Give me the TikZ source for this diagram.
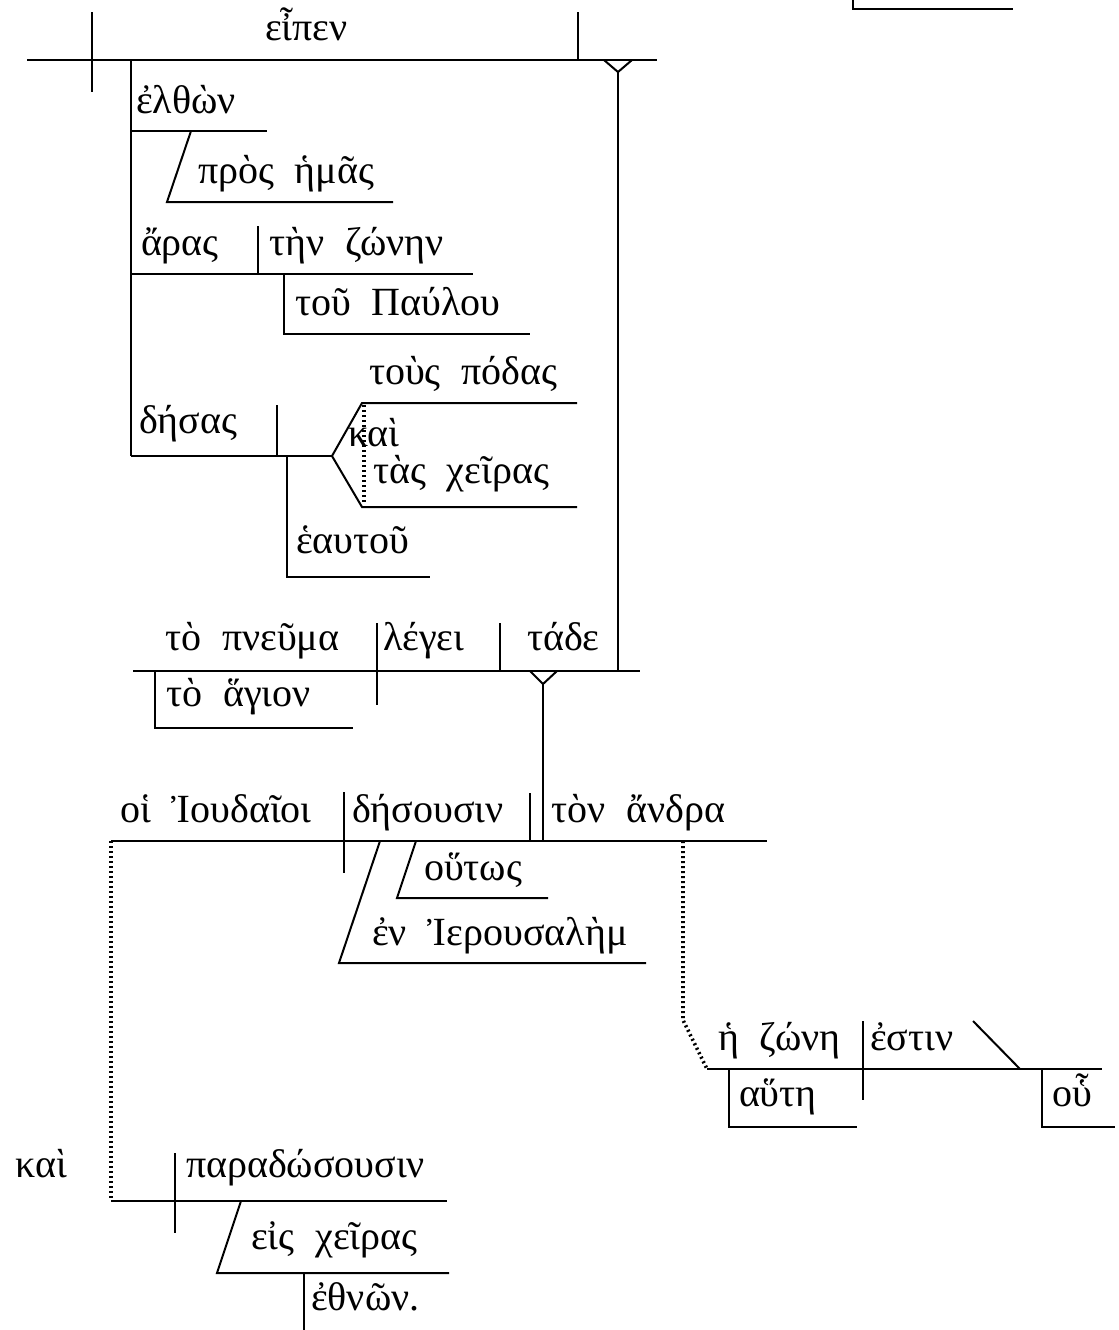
\documentclass[tikz,border=0pt]{standalone}
\usepackage{fontspec}
\setmainfont{Liberation Serif}[WordSpace=2.1]

\begin{document}
\begin{tikzpicture}[
    x=0.5pt, y=-0.5pt,
    font=\fontsize{20}{23}\selectfont,
    line width=1pt,
    word/.style={
        anchor=base west,
        inner sep=0pt
    },
    link/.style={
        line width=1.8pt,
        dash pattern=on 1pt off 1.5pt
    }
]
\useasboundingbox (0,0) rectangle (1119,1330);

% cut-off frame at the top
\draw (853,0) -- (853,9) -- (1013,9);

% main clause
\node[word] (eipen) at (264,40) {εἶπεν};
\draw (27,60) -- (657,60);
\draw (92,12) -- (92,92);
\draw (578,12) -- (578,60);
\coordinate (obj1) at (618,72);
\draw (604,60) -- (obj1) -- (632,60);
\draw (obj1) -- (618,671);

% participles
\draw (131,60) -- (131,456);
\node[word] (elthon) at (135,113) {ἐλθὼν};
\draw (131,131) -- (267,131);
\node[word] (pros) at (197,183) {πρὸς ἡμᾶς};
\draw (191,131) -- (167,202) -- (393,202);

\node[word] (aras) at (140,255) {ἄρας};
\node[word] (zonen) at (268,255) {τὴν ζώνην};
\draw (131,274) -- (473,274);
\draw (258,226) -- (258,274);
\node[word] (paulou) at (294,315) {τοῦ Παύλου};
\draw (284,274) -- (284,334) -- (530,334);

\node[word] (desas) at (138,433) {δήσας};
\draw (131,456) -- (332,456);
\draw (277,405) -- (277,456);
\node[word] (heautou) at (295,553) {ἑαυτοῦ};
\draw (287,456) -- (287,577) -- (430,577);

% compound object
\node[word] (podas) at (368,384) {τοὺς πόδας};
\node[word] (kai1) at (347,446) {καὶ};
\node[word] (cheiras1) at (372,483) {τὰς χεῖρας};
\draw (577,403) -- (362,403) -- (332,456) -- (362,507) -- (577,507);
\draw[link] (364,405) -- (364,505);

% object clause
\node[word] (pneuma) at (164,650) {τὸ πνεῦμα};
\node[word] (legei) at (382,650) {λέγει};
\node[word] (tade) at (526,650) {τάδε};
\draw (133,671) -- (640,671);
\draw (377,623) -- (377,705);
\draw (500,623) -- (500,671);
\node[word] (hagion) at (165,706) {τὸ ἅγιον};
\draw (155,671) -- (155,728) -- (353,728);
\coordinate (obj2) at (543,684);
\draw (530,671) -- (obj2) -- (557,671);
\draw (obj2) -- (543,841);

% quoted clause
\node[word] (ioudaioi) at (119,822) {οἱ Ἰουδαῖοι};
\node[word] (desousin) at (351,822) {δήσουσιν};
\node[word] (andra) at (550,822) {τὸν ἄνδρα};
\draw (111,841) -- (767,841);
\draw (344,792) -- (344,873);
\draw (530,793) -- (530,841);
\node[word] (houtos) at (423,880) {οὕτως};
\draw (416,841) -- (397,898) -- (548,898);
\node[word] (ierousalem) at (371,945) {ἐν Ἰερουσαλὴμ};
\draw (380,841) -- (339,963) -- (646,963);
\draw[link] (111,841) -- (111,1201);
\draw[link] (683,841) -- (683,1020) -- (707,1069);

% relative clause
\node[word] (zone) at (717,1050) {ἡ ζώνη};
\node[word] (estin) at (869,1050) {ἐστιν};
\draw (707,1069) -- (1102,1069);
\draw (863,1021) -- (863,1100);
\draw (973,1021) -- (1020,1069);
\node[word] (haute) at (738,1106) {αὕτη};
\draw (729,1069) -- (729,1127) -- (857,1127);
\node[word] (hou) at (1051,1106) {οὗ};
\draw (1042,1069) -- (1042,1127) -- (1115,1127);

% second verb
\node[word] (kai2) at (15,1177) {καὶ};
\node[word] (paradosousin) at (185,1177) {παραδώσουσιν};
\draw (111,1201) -- (447,1201);
\draw (175,1153) -- (175,1233);
\node[word] (cheiras2) at (250,1249) {εἰς χεῖρας};
\draw (241,1201) -- (217,1273) -- (449,1273);
\node[word] (ethnon) at (310,1310) {ἐθνῶν.};
\draw (304,1273) -- (304,1330);

\end{tikzpicture}
\end{document}
